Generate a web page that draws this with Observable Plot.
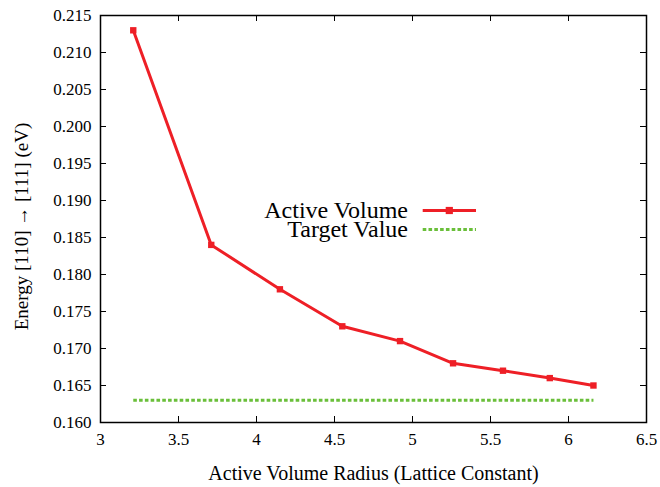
<!DOCTYPE html>
<html>
<head>
<meta charset="utf-8">
<script src="https://cdn.jsdelivr.net/npm/d3@7"></script>
<script src="https://cdn.jsdelivr.net/npm/@observablehq/plot@0.6"></script>
<style>
  html, body { margin: 0; padding: 0; background: #fff; }
  #wrap { position: relative; width: 660px; height: 487px; }
  #legend { position: absolute; left: 0; top: 0; font-family: 'Liberation Serif', 'Times New Roman', Times, 'DejaVu Serif', serif; font-size: 24px; color: #000; }
  .row { position: absolute; display: flex; align-items: center; white-space: nowrap; height: 19px; }
  .row span { display: inline-block; text-align: right; width: 220px; line-height: 19px; }
  svg text { font-family: 'Liberation Serif', 'Times New Roman', Times, 'DejaVu Serif', serif !important; }
</style>
</head>
<body>
<div id="wrap">
  <div id="chart"></div>
  <div id="legend"></div>
</div>
<script>
// Data
const radius = [3.21, 3.71, 4.15, 4.55, 4.92, 5.26, 5.58, 5.88, 6.16];
const energy = [0.213, 0.184, 0.178, 0.173, 0.171, 0.168, 0.167, 0.166, 0.165];
const targetValue = 0.163;
const targetRange = [3.21, 6.16];
const xTicks = [3, 3.5, 4, 4.5, 5, 5.5, 6, 6.5];
const yTicks = [0.160, 0.165, 0.170, 0.175, 0.180, 0.185, 0.190, 0.195, 0.200, 0.205, 0.210, 0.215];
const seriesNames = ["Active Volume", "Target Value"];
const xLabel = "Active Volume Radius (Lattice Constant)";
const yLabel = "Energy [110] \u2192 [111] (eV)";

const RED = "#ee1f26";
const GREEN = "#6abf3a";
const DASH = "3.6,2.2";

const active = radius.map((r, i) => ({x: r, y: energy[i]}));
const target = targetRange.map(r => ({x: r, y: targetValue}));

const W = 660, H = 487;
const mL = 100, mT = 15, mR = 14, mB = 65;
const fw = W - mL - mR, fh = H - mT - mB;
const tk = 6;
const font = "'Liberation Serif', 'Times New Roman', Times, 'DejaVu Serif', serif";

const chart = Plot.plot({
  width: W,
  height: H,
  marginLeft: mL, marginTop: mT, marginRight: mR, marginBottom: mB,
  style: {fontFamily: font, fontSize: "17px", background: "white", color: "black"},
  x: {domain: [3, 6.5]},
  y: {domain: [0.160, 0.215]},
  marks: [
    Plot.axisX(xTicks, {anchor: "bottom", tickSize: 0, tickPadding: 10, label: null, tickFormat: d => d3.format("")(d), fontSize: 17}),
    Plot.axisY(yTicks, {anchor: "left", tickSize: 0, tickPadding: 9, label: null, tickFormat: d3.format(".3f"), fontSize: 17}),
    // inward ticks on all four sides
    Plot.tickX(xTicks, {x: d => d, insetTop: fh - tk, stroke: "black", strokeWidth: 1}),
    Plot.tickX(xTicks, {x: d => d, insetBottom: fh - tk, stroke: "black", strokeWidth: 1}),
    Plot.tickY(yTicks, {y: d => d, insetRight: fw - tk, stroke: "black", strokeWidth: 1}),
    Plot.tickY(yTicks, {y: d => d, insetLeft: fw - tk, stroke: "black", strokeWidth: 1}),
    Plot.line(target, {x: "x", y: "y", stroke: GREEN, strokeWidth: 3, strokeDasharray: DASH, strokeLinecap: "butt"}),
    Plot.line(active, {x: "x", y: "y", stroke: RED, strokeWidth: 3}),
    Plot.dot(active, {x: "x", y: "y", symbol: "square", r: 3.6, fill: RED, stroke: "none"}),
    Plot.frame({stroke: "black", strokeWidth: 1.5}),
    Plot.text([xLabel], {frameAnchor: "bottom", dy: 51, lineAnchor: "middle", textAnchor: "middle", fontSize: 20, text: d => d}),
    Plot.text([yLabel], {frameAnchor: "left", dx: -79, dy: 7.5, rotate: -90, lineAnchor: "middle", textAnchor: "middle", fontSize: 19, text: d => d})
  ]
});
document.getElementById("chart").appendChild(chart);

// Legend (HTML overlay)
const legend = document.getElementById("legend");
const rows = [
  {name: seriesNames[0], color: RED, dash: null, marker: true, top: 210.5},
  {name: seriesNames[1], color: GREEN, dash: DASH, marker: false, top: 229.5}
];
rows.forEach(r => {
  const div = document.createElement("div");
  div.className = "row";
  div.style.left = (408 - 220) + "px";
  div.style.top = (r.top - 9.5) + "px";
  const span = document.createElement("span");
  span.textContent = r.name;
  div.appendChild(span);
  const svgNS = "http://www.w3.org/2000/svg";
  const svg = document.createElementNS(svgNS, "svg");
  svg.setAttribute("width", 70);
  svg.setAttribute("height", 19);
  svg.style.display = "block";
  svg.style.overflow = "visible";
  const line = document.createElementNS(svgNS, "line");
  line.setAttribute("x1", 14.7); line.setAttribute("x2", 68);
  line.setAttribute("y1", 9.5); line.setAttribute("y2", 9.5);
  line.setAttribute("stroke", r.color); line.setAttribute("stroke-width", 3);
  if (r.dash) line.setAttribute("stroke-dasharray", r.dash);
  svg.appendChild(line);
  if (r.marker) {
    const rect = document.createElementNS(svgNS, "rect");
    rect.setAttribute("x", 41.3 - 3.6); rect.setAttribute("y", 9.5 - 3.6);
    rect.setAttribute("width", 7.2); rect.setAttribute("height", 7.2);
    rect.setAttribute("fill", r.color);
    svg.appendChild(rect);
  }
  div.appendChild(svg);
  legend.appendChild(div);
});
</script>
</body>
</html>
